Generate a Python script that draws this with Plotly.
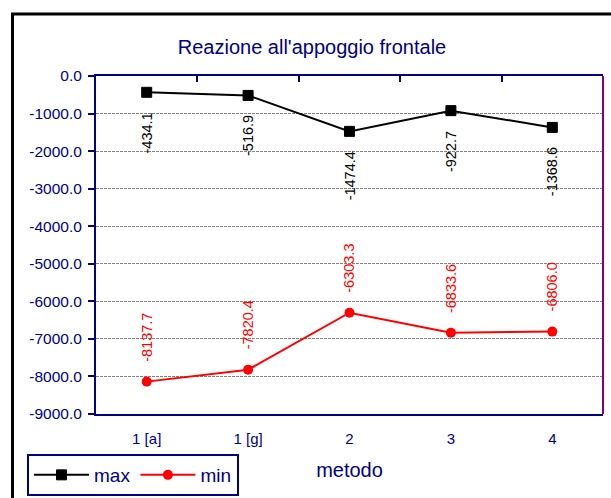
import plotly.graph_objects as go

categories = ["1 [a]", "1 [g]", "2", "3", "4"]
max_vals = [-434.1, -516.9, -1474.4, -922.7, -1368.6]
min_vals = [-8137.7, -7820.4, -6303.3, -6833.6, -6806.0]
y_ticks = [0, -1000, -2000, -3000, -4000, -5000, -6000, -7000, -8000, -9000]
y_tick_text = ["0.0", "-1000.0", "-2000.0", "-3000.0", "-4000.0", "-5000.0",
               "-6000.0", "-7000.0", "-8000.0", "-9000.0"]

NAVY = "#000080"
FONT = "Liberation Sans, Arial, sans-serif"

fig = go.Figure()
fig.add_trace(go.Scatter(x=categories, y=max_vals, name="max", mode="lines+markers",
                         line=dict(color="black", width=2),
                         marker=dict(symbol="square", size=10, color="black",
                                     line=dict(color="black", width=1))))
fig.add_trace(go.Scatter(x=categories, y=min_vals, name="min", mode="lines+markers",
                         line=dict(color="red", width=2),
                         marker=dict(symbol="circle", size=10, color="red")))
# invisible trace for top axis ticks
fig.add_trace(go.Scatter(x=categories, y=max_vals, xaxis="x2", mode="markers",
                         marker=dict(opacity=0), showlegend=False, hoverinfo="skip"))

annotations = []
for c, v in zip(categories, max_vals):
    annotations.append(dict(x=c, y=v, xref="x", yref="y", text=f"{v:.1f}", showarrow=False,
                            textangle=-90, yanchor="top", yshift=-18,
                            font=dict(family=FONT, size=14.5, color="black")))
for c, v in zip(categories, min_vals):
    annotations.append(dict(x=c, y=v, xref="x", yref="y", text=f"{v:.1f}", showarrow=False,
                            textangle=-90, yanchor="bottom", yshift=18,
                            font=dict(family=FONT, size=14.5, color="red")))

fig.update_layout(
    width=611, height=498,
    margin=dict(l=96, r=8, t=76, b=84, autoexpand=False),
    paper_bgcolor="white", plot_bgcolor="white",
    font=dict(family=FONT, size=15, color=NAVY),
    title=dict(text="Reazione all'appoggio frontale", x=312/611, xref="container", xanchor="center",
               y=1 - 47/498, yref="container", yanchor="middle",
               font=dict(family=FONT, size=20, color=NAVY)),
    showlegend=True,
    legend=dict(orientation="h", x=(27-96)/507, y=(414-454)/338, xanchor="left", yanchor="top",
                xref="paper", yref="paper",
                bordercolor=NAVY, borderwidth=2, bgcolor="white",
                font=dict(family=FONT, size=19, color=NAVY),
                itemwidth=55, tracegroupgap=0),
    xaxis=dict(type="category", categoryarray=categories, range=[-0.5, 4.5],
               showline=True, linecolor=NAVY, linewidth=2, automargin=False,
               ticks="", showgrid=False, zeroline=False,
               tickfont=dict(family=FONT, size=15, color=NAVY),
               ticklabelstandoff=10,
               title=dict(text="metodo", font=dict(family=FONT, size=20, color=NAVY), standoff=17)),
    xaxis2=dict(type="category", categoryarray=categories, range=[-0.5, 4.5], overlaying="x",
                side="top", anchor="y", tickson="boundaries", ticks="inside", ticklen=6,
                tickcolor=NAVY, tickwidth=2, showticklabels=False, showgrid=False,
                showline=True, linecolor=NAVY, linewidth=2, zeroline=False, automargin=False),
    yaxis=dict(range=[-9000, 0], tickvals=y_ticks, ticktext=y_tick_text,
               showline=True, linecolor=NAVY, linewidth=2, mirror=False, automargin=False,
               ticks="outside", ticklen=6, tickcolor=NAVY, tickwidth=2,
               showgrid=True, gridcolor="#808080", griddash="3px,1px", gridwidth=1,
               zeroline=False, ticklabelstandoff=3,
               tickfont=dict(family=FONT, size=15.5, color=NAVY)),
    annotations=annotations,
    shapes=[
        dict(type="line", xref="paper", yref="paper", x0=1, x1=1, y0=0, y1=1,
             line=dict(color="#800080", width=2)),
        dict(type="rect", xref="paper", yref="paper", x0=(12.5-96)/507, x1=1.05,
             y0=-0.35, y1=(414-14)/338, line=dict(color="black", width=3), layer="below"),
    ],
)

fig.write_html("out.html")
